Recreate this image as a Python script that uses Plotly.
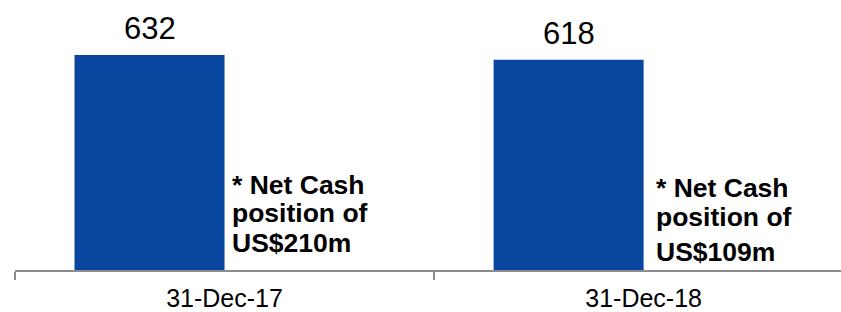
import plotly.graph_objects as go

categories = ["31-Dec-17", "31-Dec-18"]
values = [632, 618]
note_lines = [
    ["* Net Cash", "position of", "US$210m"],
    ["* Net Cash", "position of", "US$109m"],
]

BAR_COLOR = "#0846A0"
AXIS_COLOR = "#8C8C8C"
FONT = "Liberation Sans, Arial, sans-serif"
BAR_W = 0.358

fig = go.Figure()
fig.add_trace(go.Bar(
    x=categories, y=values,
    width=[BAR_W] * len(values), offset=[-BAR_W] * len(values),
    marker=dict(color=BAR_COLOR, line=dict(width=0)),
    hoverinfo="skip",
))

annotations = []
# value labels above bars
for i, v in enumerate(values):
    annotations.append(dict(
        x=i - BAR_W / 2, y=v, xref="x", yref="y",
        text=str(v), showarrow=False, xanchor="center", yanchor="bottom",
        yshift=7, font=dict(family=FONT, size=31, color="black"),
    ))

# note text to the right of each bar
note_xshift = [6, 11]
note_baseline_px = [[195, 223, 253], [198, 227, 262]]
for i, lines in enumerate(note_lines):
    for j, line in enumerate(lines):
        annotations.append(dict(
            x=i, y=0, xref="x", yref="y",
            text="<b>" + line + "</b>", showarrow=False,
            xanchor="left", yanchor="bottom",
            xshift=note_xshift[i] - 1,
            yshift=270 - note_baseline_px[i][j] - 7,
            font=dict(family=FONT, size=26.5, color="black"),
        ))

fig.update_layout(
    width=841, height=312,
    margin=dict(l=15, r=0, t=0, b=42, pad=0, autoexpand=False),
    paper_bgcolor="white", plot_bgcolor="white",
    showlegend=False,
    annotations=annotations,
    xaxis=dict(
        type="category", range=[-0.5, 1.471], automargin=False,
        showline=True, linecolor=AXIS_COLOR, linewidth=2,
        ticks="outside", tickson="boundaries", ticklen=8,
        tickcolor=AXIS_COLOR, tickwidth=2, ticklabelstandoff=5,
        showgrid=False, zeroline=False,
        tickfont=dict(family=FONT, size=25, color="black"),
    ),
    yaxis=dict(visible=False, range=[0, 793.6], fixedrange=True, automargin=False),
)

fig.write_html(
    "out.html",
    config={"displayModeBar": False, "staticPlot": True},
    post_script="document.body.style.margin='0';document.body.style.overflow='hidden';",
)
